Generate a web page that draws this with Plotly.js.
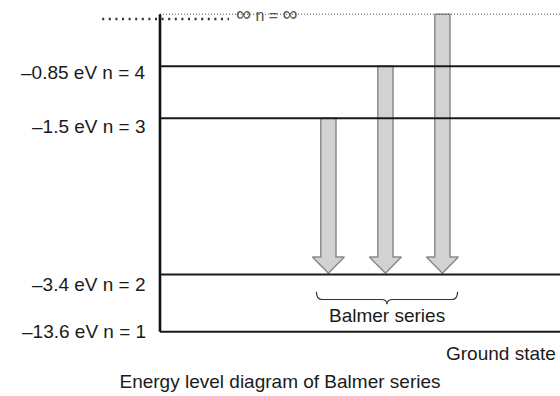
<!DOCTYPE html>
<html>
<head>
<meta charset="utf-8">
<script src="https://cdn.plot.ly/plotly-3.0.1.min.js"></script>
<style>html,body{margin:0;padding:0;background:#fff;}#chart{width:560px;height:396px;}</style>
</head>
<body>
<div id="chart"></div>
<script>
// ---- data ----
const levelN = ['∞', 4, 3, 2, 1];
const levelEnergyEV = [0, -0.85, -1.5, -3.4, -13.6];
const levelLabels = ['∞ n = ∞', '–0.85 eV n = 4', '–1.5 eV n = 3', '–3.4 eV n = 2', '–13.6 eV n = 1'];
// schematic vertical placement of each level (diagram is not to scale)
const levelRank = [6, 5, 4, 1, -0.1];
// Balmer transitions (left to right): upper level -> n = 2
const transitionFrom = [3, 4, '∞'];
const transitionTo = [2, 2, 2];
const seriesName = 'Balmer series';
const groundLabel = 'Ground state';
const chartTitle = 'Energy level diagram of Balmer series';

// ---- build ----
const FONT = 'Liberation Sans, Arial, Helvetica, sans-serif';
const TXT = '#1a1a1a';
const rankOf = n => levelRank[levelN.indexOf(n)];

const traces = [];
const arrowX0 = 0.421, arrowDx = 0.1425;
const sw = 0.019, hw = 0.040, hh = 0.31, tipGap = 0.025;
const arrowCenters = [];
transitionFrom.forEach((from, i) => {
  const xc = arrowX0 + i * arrowDx;
  arrowCenters.push(xc);
  const yTop = rankOf(from);
  const yTip = rankOf(transitionTo[i]) + tipGap;
  traces.push({
    type: 'scatter', mode: 'lines', fill: 'toself', fillcolor: '#d2d2d2',
    line: {color: '#8a8a8a', width: 1.5},
    x: [xc - sw, xc + sw, xc + sw, xc + hw, xc, xc - hw, xc - sw, xc - sw],
    y: [yTop, yTop, yTip + hh, yTip + hh, yTip, yTip + hh, yTip + hh, yTop],
    hoverinfo: 'skip', showlegend: false
  });
});

// energy level lines
levelN.forEach((n, i) => {
  const isInf = n === '∞';
  traces.push({
    type: 'scatter', mode: 'lines', x: [0, 1], y: [levelRank[i], levelRank[i]],
    line: isInf ? {color: '#555', width: 1, dash: '1px,2px'} : {color: '#1a1a1a', width: 2},
    hoverinfo: 'skip', showlegend: false
  });
});
// vertical energy axis
traces.push({
  type: 'scatter', mode: 'lines', x: [0, 0],
  y: [Math.min(...levelRank), Math.max(...levelRank)],
  line: {color: '#111', width: 2.6}, hoverinfo: 'skip', showlegend: false
});

const labelShift = [0, -6, -8, -10, 0];
const annotations = [];
levelN.forEach((n, i) => {
  if (n === '∞') {
    const t = levelLabels[i].replace(/∞/g, '<span style="font-size:21px">∞</span>');
    annotations.push({xref: 'x', yref: 'y', x: 0.268, y: levelRank[i], yshift: 1, text: t,
      showarrow: false, xanchor: 'center', yanchor: 'middle',
      font: {family: FONT, size: 16, color: '#555'}});
  } else {
    annotations.push({xref: 'x', yref: 'y', x: -0.03, y: levelRank[i], yshift: labelShift[i],
      text: levelLabels[i], showarrow: false, xanchor: 'right', yanchor: 'middle',
      font: {family: FONT, size: 19, color: TXT}});
  }
});

const bL = arrowCenters[0] - 0.030, bR = arrowCenters[arrowCenters.length - 1] + 0.038;
const bM = (bL + bR) / 2;
const r2 = rankOf(2);
const bTop = r2 - 0.33, bFlat = r2 - 0.48, bTip = r2 - 0.57, br = 0.015;
annotations.push({xref: 'x', yref: 'y', x: bM, y: r2 - 0.79, text: seriesName, showarrow: false,
  xanchor: 'center', yanchor: 'middle', font: {family: FONT, size: 19, color: TXT}});
annotations.push({xref: 'paper', yref: 'paper', x: 0.995, y: -0.05, text: groundLabel, showarrow: false,
  xanchor: 'right', yanchor: 'middle', font: {family: FONT, size: 19, color: TXT}});

const shapes = [
  {type: 'path', xref: 'x', yref: 'y', line: {color: '#333', width: 1.2},
   path: `M ${bL},${bTop} Q ${bL},${bFlat} ${bL + br},${bFlat} L ${bM - br},${bFlat} Q ${bM},${bFlat} ${bM},${bTip} ` +
         `Q ${bM},${bFlat} ${bM + br},${bFlat} L ${bR - br},${bFlat} Q ${bR},${bFlat} ${bR},${bTop}`},
  {type: 'line', xref: 'paper', yref: 'paper', x0: -0.09, x1: 0.212, y0: 0.9695, y1: 0.9695,
   line: {color: '#333', width: 2.4, dash: '2px,4.6px'}}
];

const layout = {
  width: 560, height: 396,
  margin: {l: 140, r: 0, t: 9, b: 59},
  paper_bgcolor: '#fff', plot_bgcolor: '#fff',
  showlegend: false,
  title: {text: chartTitle, x: 0.5, xanchor: 'center', xref: 'container', y: 0.038, yref: 'container', yanchor: 'middle',
          font: {family: FONT, size: 19, color: TXT}},
  xaxis: {range: [-0.05, 1], visible: false, fixedrange: true},
  yaxis: {range: [-0.2, 6.1], visible: false, fixedrange: true},
  annotations, shapes
};

Plotly.newPlot('chart', traces, layout, {staticPlot: true, displayModeBar: false});
</script>
</body>
</html>
